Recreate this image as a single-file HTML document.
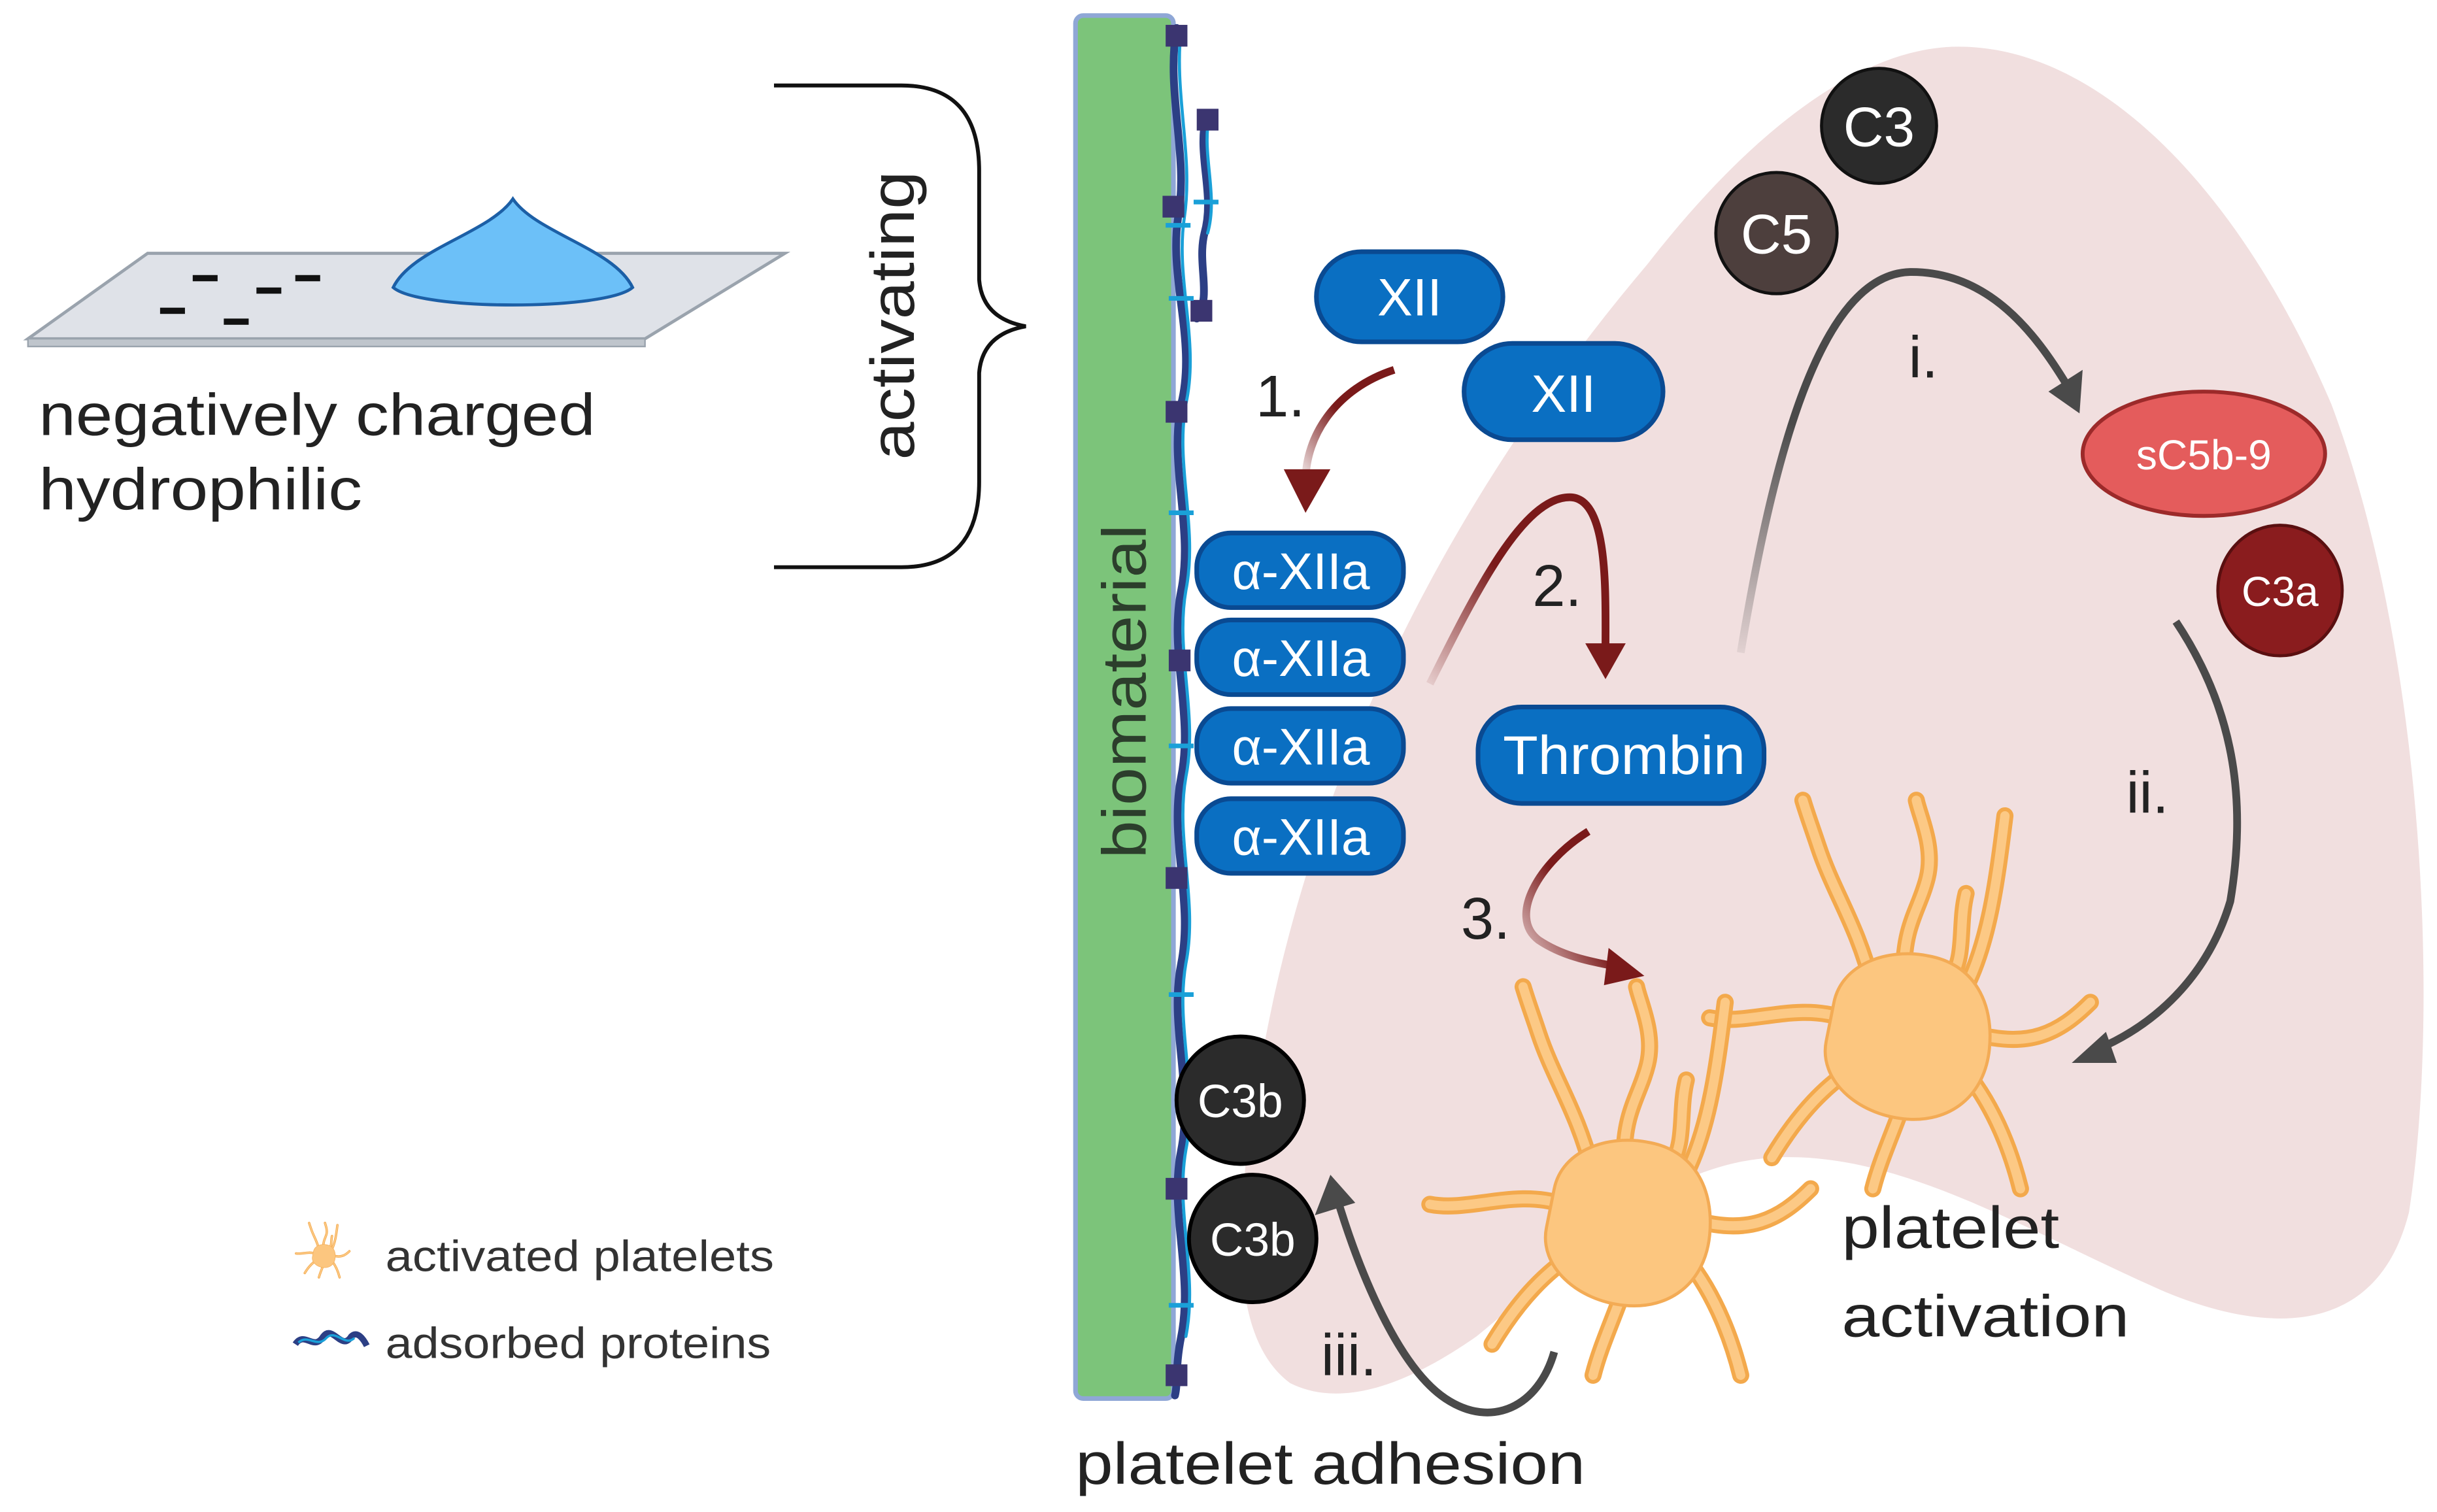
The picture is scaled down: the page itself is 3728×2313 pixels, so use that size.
<!DOCTYPE html>
<html><head><meta charset="utf-8"><style>
html,body{margin:0;padding:0;background:#fff;}
svg{display:block;}
text{font-family:"Liberation Sans",sans-serif;}
</style></head><body>
<svg width="3728" height="2313" viewBox="0 0 1568 973" preserveAspectRatio="none" xmlns="http://www.w3.org/2000/svg">
<defs>
<linearGradient id="fadeR" x1="0" y1="1" x2="1" y2="0"><stop offset="0" stop-color="#7a1a1a" stop-opacity="0.1"/><stop offset="0.5" stop-color="#7a1a1a"/></linearGradient>
<linearGradient id="fadeG" x1="0" y1="1" x2="0" y2="0"><stop offset="0" stop-color="#555" stop-opacity="0.1"/><stop offset="0.6" stop-color="#4a4a4a"/></linearGradient>
<g id="plt">
<g fill="none" stroke="#f3a94c" stroke-width="11" stroke-linecap="round">
<path d="M-20,-30 C-30,-70 -45,-90 -55,-120 C-60,-135 -62,-140 -65,-150"/>
<path d="M0,-40 C0,-70 10,-80 15,-100 C20,-120 10,-140 8,-150"/>
<path d="M30,-35 C40,-50 35,-70 40,-90"/>
<path d="M40,-30 C55,-60 60,-100 65,-140"/>
<path d="M45,0 C80,10 100,0 120,-20"/>
<path d="M40,25 C60,50 70,80 75,100"/>
<path d="M5,30 C-5,60 -15,80 -20,100"/>
<path d="M-20,15 C-50,30 -70,55 -85,80"/>
<path d="M-40,-10 C-70,-20 -100,-5 -125,-10"/>
</g>
<g fill="none" stroke="#fcc985" stroke-width="6" stroke-linecap="round">
<path d="M-20,-30 C-30,-70 -45,-90 -55,-120 C-60,-135 -62,-140 -65,-150"/>
<path d="M0,-40 C0,-70 10,-80 15,-100 C20,-120 10,-140 8,-150"/>
<path d="M30,-35 C40,-50 35,-70 40,-90"/>
<path d="M40,-30 C55,-60 60,-100 65,-140"/>
<path d="M45,0 C80,10 100,0 120,-20"/>
<path d="M40,25 C60,50 70,80 75,100"/>
<path d="M5,30 C-5,60 -15,80 -20,100"/>
<path d="M-20,15 C-50,30 -70,55 -85,80"/>
<path d="M-40,-10 C-70,-20 -100,-5 -125,-10"/>
</g>
<path d="M-45,-20 C-40,-45 -10,-55 15,-50 C45,-45 58,-20 55,10 C52,40 30,58 0,55 C-30,52 -55,30 -50,5 Z" fill="#fcc67f" stroke="#f3ab55" stroke-width="2"/>
</g>
</defs>

<!-- pink blob -->
<path d="M830,890 C790,860 790,780 820,640 C860,460 950,300 1060,170 C1130,80 1200,30 1260,30 C1350,30 1440,120 1500,260 C1560,420 1570,650 1550,780 C1530,860 1460,860 1390,830 C1300,790 1220,740 1140,745 C1060,750 1000,820 950,860 C900,895 860,905 830,890 Z" fill="#f1dfdf"/>

<!-- slide -->
<path d="M18,218 L95,163 L505,163 L415,218 Z" fill="#dfe2e8" stroke="#9aa3ad" stroke-width="2"/>
<path d="M18,218 L415,218 L415,223 L18,223 Z" fill="#bfc5cc" stroke="#9aa3ad" stroke-width="1"/>
<path d="M253,185 C265,160 315,150 330,128 C345,150 395,160 407,185 C390,200 270,200 253,185 Z" fill="#6cc0f8" stroke="#1c5fa6" stroke-width="2"/>
<g fill="#111">
<rect x="124" y="177" width="16" height="4"/><rect x="165" y="185" width="16" height="4"/><rect x="190" y="177" width="16" height="4"/><rect x="103" y="198" width="16" height="4"/><rect x="144" y="205" width="16" height="4"/>
</g>
<text x="25" y="280" font-size="38" fill="#222" textLength="358" lengthAdjust="spacingAndGlyphs">negatively charged</text>
<text x="25" y="328" font-size="38" fill="#222" textLength="208" lengthAdjust="spacingAndGlyphs">hydrophilic</text>

<!-- brace -->
<path d="M498,55 L580,55 Q630,55 630,110 L630,180 Q632,205 660,210 Q632,215 630,240 L630,310 Q630,365 580,365 L498,365" fill="none" stroke="#111" stroke-width="2.5"/>
<text transform="translate(588,203) rotate(-90)" text-anchor="middle" font-size="40" fill="#222" textLength="186" lengthAdjust="spacingAndGlyphs">activating</text>

<!-- biomaterial -->
<rect x="692" y="10" width="63" height="890" rx="5" fill="#7cc47a" stroke="#8fa7d6" stroke-width="3"/>
<text transform="translate(737,445) rotate(-90)" text-anchor="middle" font-size="40" fill="#2c3e2c" textLength="215" lengthAdjust="spacingAndGlyphs">biomaterial</text>

<!-- proteins -->
<g fill="none" stroke-linecap="round">
<path d="M757,18 C750,60 765,100 758,140 C752,180 770,220 760,260 C752,300 768,340 760,380 C752,420 768,460 760,500 C752,540 768,580 760,620 C752,660 768,700 760,740 C752,780 768,820 760,860 C756,880 758,890 756,898" stroke="#2c3f85" stroke-width="5"/>
<path d="M760,18 C755,60 768,100 762,140 C756,180 772,220 763,260 C756,300 771,340 763,380 C756,420 771,460 763,500 C756,540 771,580 763,620 C756,660 771,700 763,740 C756,780 771,820 763,860" stroke="#1aa0d8" stroke-width="2"/>
<path d="M776,75 C770,100 782,125 775,150 C770,170 780,190 770,205" stroke="#2c3f85" stroke-width="5"/>
<path d="M778,75 C773,100 784,125 777,150" stroke="#1aa0d8" stroke-width="2"/>
</g>
<g fill="#3b3570">
<rect x="750" y="16" width="14" height="14"/><rect x="770" y="70" width="14" height="14"/><rect x="748" y="126" width="14" height="14"/><rect x="766" y="193" width="14" height="14"/><rect x="750" y="258" width="14" height="14"/><rect x="752" y="418" width="14" height="14"/><rect x="750" y="558" width="14" height="14"/><rect x="750" y="758" width="14" height="14"/><rect x="750" y="878" width="14" height="14"/>
</g>
<g stroke="#1aa0d8" stroke-width="3">
<line x1="750" y1="145" x2="766" y2="145"/><line x1="768" y1="130" x2="784" y2="130"/><line x1="752" y1="192" x2="768" y2="192"/><line x1="752" y1="330" x2="768" y2="330"/><line x1="752" y1="480" x2="768" y2="480"/><line x1="752" y1="640" x2="768" y2="640"/><line x1="752" y1="840" x2="768" y2="840"/>
</g>

<!-- pills -->
<g fill="#0a6fc2" stroke="#0a4a92" stroke-width="3">
<rect x="847" y="162" width="120" height="58" rx="29"/>
<rect x="942" y="221" width="128" height="62" rx="31"/>
<rect x="770" y="343" width="133" height="48" rx="22"/>
<rect x="770" y="399" width="133" height="48" rx="22"/>
<rect x="770" y="456" width="133" height="48" rx="22"/>
<rect x="770" y="514" width="133" height="48" rx="22"/>
<rect x="951" y="455" width="184" height="62" rx="28"/>
</g>
<g fill="#fff" font-size="34" text-anchor="middle">
<text x="907" y="203">XII</text>
<text x="1006" y="265">XII</text>
<text x="837" y="379" font-size="33">α-XIIa</text>
<text x="837" y="435" font-size="33">α-XIIa</text>
<text x="837" y="492" font-size="33">α-XIIa</text>
<text x="837" y="550" font-size="33">α-XIIa</text>
<text x="1045" y="498" font-size="35" textLength="156" lengthAdjust="spacingAndGlyphs">Thrombin</text>
</g>

<!-- complement -->
<circle cx="1209" cy="81" r="37" fill="#2b2b2b" stroke="#111" stroke-width="2"/>
<circle cx="1143" cy="150" r="39" fill="#4d3f3d" stroke="#111" stroke-width="2"/>
<ellipse cx="1418" cy="292" rx="78" ry="40" fill="#e45c5c" stroke="#9c2a2a" stroke-width="2.5"/>
<ellipse cx="1467" cy="380" rx="40" ry="42" fill="#8a1c1e" stroke="#5a0f10" stroke-width="2"/>
<circle cx="798" cy="708" r="41" fill="#2b2b2b" stroke="#000" stroke-width="2.5"/>
<circle cx="806" cy="797" r="41" fill="#2b2b2b" stroke="#000" stroke-width="2.5"/>
<g fill="#fff" text-anchor="middle">
<text x="1209" y="94" font-size="36">C3</text>
<text x="1143" y="163" font-size="36">C5</text>
<text x="1418" y="302" font-size="27">sC5b-9</text>
<text x="1467" y="390" font-size="27">C3a</text>
<text x="798" y="719" font-size="30">C3b</text>
<text x="806" y="808" font-size="30">C3b</text>
</g>

<!-- platelets -->
<use href="#plt" transform="translate(1225,665)"/>
<use href="#plt" transform="translate(1045,785)"/>

<!-- arrows -->
<g fill="none" stroke-width="5">
<path d="M897,238 C860,250 840,280 840,310" stroke="url(#fadeR)"/>
<path d="M920,440 C950,380 980,320 1010,320 C1035,320 1033,380 1033,418" stroke="url(#fadeR)"/>
<path d="M1022,535 C990,555 970,590 990,605 C1005,615 1020,618 1040,622" stroke="url(#fadeR)"/>
<path d="M1120,420 C1140,300 1170,175 1230,175 C1280,175 1310,215 1330,248" stroke="url(#fadeG)"/>
<path d="M1400,400 C1440,460 1445,520 1435,580 C1420,630 1385,660 1350,675" stroke="#4a4a4a"/>
<path d="M1000,870 C990,905 960,920 930,900 C900,880 875,820 860,770" stroke="#4a4a4a"/>
</g>
<g fill="#7a1a1a">
<path d="M826,302 L856,302 L840,330 Z"/>
<path d="M1020,414 L1046,414 L1033,437 Z"/>
<path d="M1035,610 L1058,628 L1032,634 Z"/>
</g>
<g fill="#4a4a4a">
<path d="M1318,252 L1340,238 L1338,266 Z"/>
<path d="M1355,664 L1333,684 L1362,684 Z"/>
<path d="M846,782 L856,756 L872,774 Z"/>
</g>
<g font-size="38" fill="#222">
<text x="808" y="268">1.</text>
<text x="986" y="390">2.</text>
<text x="940" y="604">3.</text>
<text x="1228" y="243">i.</text>
<text x="1368" y="523">ii.</text>
<text x="850" y="885">iii.</text>
<text x="1185" y="803" textLength="140" lengthAdjust="spacingAndGlyphs">platelet</text>
<text x="1185" y="860" textLength="185" lengthAdjust="spacingAndGlyphs">activation</text>
<text x="692" y="955" textLength="328" lengthAdjust="spacingAndGlyphs">platelet adhesion</text>
</g>

<!-- legend -->
<use href="#plt" transform="translate(208,808) scale(0.14)"/>
<text x="248" y="818" font-size="28" fill="#333" textLength="250" lengthAdjust="spacingAndGlyphs">activated platelets</text>
<path d="M190,865 C196,856 202,870 208,860 C214,852 220,870 226,860 C230,856 234,862 236,866" fill="none" stroke="#2c3f85" stroke-width="4"/>
<path d="M192,864 C198,858 204,868 210,861 C216,855 222,867 228,861" fill="none" stroke="#1aa0d8" stroke-width="1.5"/>
<text x="248" y="874" font-size="28" fill="#333" textLength="248" lengthAdjust="spacingAndGlyphs">adsorbed proteins</text>
</svg>
</body></html>
